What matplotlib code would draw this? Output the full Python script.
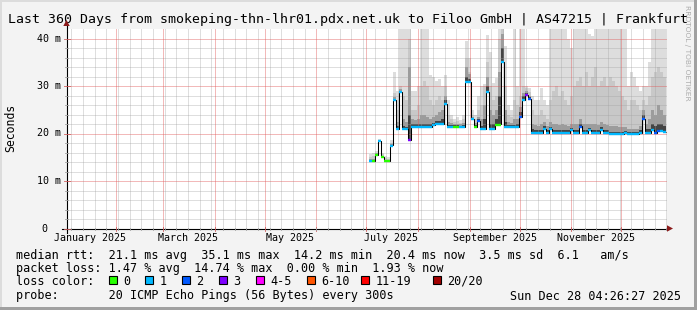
import numpy as np
import matplotlib
matplotlib.use("Agg")
import matplotlib.pyplot as plt
from matplotlib.lines import Line2D
from matplotlib.patches import Rectangle, Polygon

W, H = 697, 310
DPI = 100

# ---------------- data (ms), one bin = 1.8 days ----------------
start_day = 182.8      # days since 2025-01-01 00:00
bin_days = 1.8

median = [14.2, 14.2, 15.5, 18.5, 15.0, 14.2, 14.2, 17.5, 27.0, 21.0,
          28.8, 21.1, 20.9, 18.6, 21.4, 21.4, 21.4, 21.4, 21.4, 21.4,
          21.4, 21.8, 22.0, 22.0, 22.1, 26.3, 21.4, 21.4, 21.4, 21.4,
          21.4, 21.4, 30.9, 30.9, 23.0, 21.4, 22.6, 20.9, 20.9, 28.8,
          20.9, 20.9, 21.9, 21.9, 35.1, 21.4, 21.4, 21.4, 21.4, 21.4,
          23.5, 27.0, 28.2, 27.3, 20.2, 20.2, 20.2, 20.2, 21.0, 20.2,
          21.0, 20.2, 20.2, 20.2, 20.2, 20.2, 20.2, 20.8, 20.2, 20.2,
          21.5, 20.2, 20.2, 20.8, 20.2, 20.2, 20.2, 20.8, 20.2, 20.2,
          19.9, 19.9, 19.9, 19.9, 19.9, 20.1, 19.9, 19.9, 19.9, 19.9,
          20.2, 23.0, 20.2, 20.2, 20.8, 20.2, 20.6, 20.6, 20.4]

loss = [1, 0, 0, 1, 0, 0, 0, 1, 1, 1,
        1, 1, 1, 3, 1, 1, 1, 1, 1, 1,
        1, 1, 1, 1, 1, 1, 1, 1, 0, 0,
        1, 1, 1, 1, 1, 0, 2, 1, 1, 1,
        1, 1, 0, 0, 1, 1, 1, 1, 1, 1,
        2, 1, 3, 2, 1, 1, 1, 1, 1, 1,
        1, 1, 1, 1, 1, 1, 1, 1, 1, 1,
        2, 1, 1, 1, 1, 1, 1, 1, 1, 1,
        1, 1, 1, 1, 1, 1, 1, 1, 1, 1,
        1, 2, 1, 1, 1, 2, 2, 1, 1]

smoke_max = [15.6, 15.8, 16.3, 18.8, 16.0, 15.3, 15.0, 18.6, 33.0, 29.0,
             43, 43, 43, 43, 29, 29, 30, 43, 43, 43,
             32.3, 32, 31, 31.5, 30, 32.3, 27, 24, 23, 23.5,
             22.8, 24, 39.5, 36, 25, 24, 28, 30, 30.5, 40.7,
             37.2, 30.6, 31.6, 43, 43, 38.4, 26, 25, 43, 30,
             43, 43, 30, 29.5, 28, 27, 27, 29.5, 27, 26,
             43, 43, 43, 43, 43, 43, 40, 38, 43, 43,
             43, 43, 43, 41, 40.5, 43, 43, 43, 43, 43,
             43, 43, 43, 43, 43, 43, 30, 33, 32, 30,
             29, 30, 30, 35, 43, 43, 43, 43, 43]

smoke_hi = [15.0, 15.2, 16.0, 18.6, 15.6, 14.9, 14.7, 18.0, 28.5, 25,
            30, 28, 27, 40, 25, 25, 26, 30, 31, 30,
            27, 26, 27, 28, 27, 30, 24, 23, 22.5, 22.6,
            22.3, 23, 36, 33, 24, 23, 25, 26, 30, 35,
            30, 27, 28, 40, 43, 30, 24, 23.5, 27, 26,
            28, 30, 29.5, 28.8, 25, 24, 24, 25, 24, 23,
            27, 29, 30, 28, 29, 27, 26, 28, 30, 31,
            32, 30, 33, 30, 32, 34, 30, 31, 32, 30,
            32, 31, 30, 29, 28, 27, 25, 27, 27, 26,
            25, 27, 26, 28, 32, 33, 34, 33, 32]

smoke_mid = [14.6, 14.7, 15.8, 18.6, 15.3, 14.5, 14.4, 17.8, 27.6, 22.5,
             29.3, 23, 22.5, 34, 23, 22.8, 23, 24, 24, 23.5,
             23, 23.5, 24, 24.5, 25, 28, 22.5, 22.2, 22, 22,
             21.9, 22.2, 34, 32.5, 23.5, 22.2, 23.5, 23, 26, 32,
             25, 24, 25, 33, 41, 25, 22.5, 22.2, 23, 23,
             25.5, 28.5, 29, 28, 22, 21.8, 21.5, 22, 22.5, 21.5,
             22.5, 22, 22, 21.8, 22, 21.8, 21.5, 22, 22, 22,
             23, 22, 22, 22, 22, 22, 21.8, 22.5, 22, 21.8,
             21.5, 21.5, 21.5, 21.3, 21.3, 21.3, 21, 21, 21, 21,
             21.5, 25, 22, 23, 25, 24, 26, 25, 24]

smoke_dark = [14.4, 14.4, 15.6, 18.5, 15.1, 14.3, 14.3, 17.6, 27.2, 21.5,
              29.0, 21.6, 21.4, 24, 22, 21.9, 22, 22, 22, 22,
              22, 22.3, 22.6, 22.6, 23, 27, 21.8, 21.7, 21.7, 21.7,
              21.6, 21.7, 32, 31.5, 23.2, 21.8, 23, 21.5, 23, 30,
              22, 22, 23, 28, 38, 22.5, 21.8, 21.7, 21.8, 22,
              24.5, 27.8, 28.6, 27.6, 21, 20.8, 20.7, 20.8, 21.5, 20.7,
              21.4, 20.8, 20.8, 20.8, 20.8, 20.7, 20.7, 21.2, 20.8, 20.8,
              22, 20.8, 20.8, 21.2, 20.8, 20.8, 20.7, 21.3, 20.8, 20.7,
              20.4, 20.4, 20.4, 20.4, 20.4, 20.5, 20.3, 20.3, 20.3, 20.3,
              20.7, 24, 21, 21, 22, 21.5, 22, 22, 21.5]

loss_colors = ['#26ff00', '#00b8ff', '#0059ff', '#7e00ff',
               '#ff00ff', '#ff5500', '#ff0000', '#a10000']
loss_labels = ['0', '1', '2', '3', '4-5', '6-10', '11-19', '20/20']

month_labels = ['January 2025', 'March 2025', 'May 2025',
                'July 2025', 'September 2025', 'November 2025']
month_label_days = [0, 59, 120, 181, 243, 304]
month_start_days = [31, 59, 90, 120, 151, 181, 212, 243, 273, 304, 334]

title = "Last 360 Days from smokeping-thn-lhr01.pdx.net.uk to Filoo GmbH | AS47215 | Frankfurt"
legend_lines = [
    "median rtt:  21.1 ms avg  35.1 ms max  14.2 ms min  20.4 ms now  3.5 ms sd  6.1   am/s",
    "packet loss: 1.47 % avg  14.74 % max  0.00 % min  1.93 % now",
]
probe_text = "probe:       20 ICMP Echo Pings (56 Bytes) every 300s"
stamp_text = "Sun Dec 28 04:26:27 2025"

# ---------------- figure ----------------
MONO = 'DejaVu Sans Mono'
fig = plt.figure(figsize=(W / DPI, H / DPI), dpi=DPI)
fig.patch.set_facecolor('#f3f3f3')


def fx(x):
    return x / W


def fy(y):
    return 1 - y / H


# 3D-ish border
fig.add_artist(Rectangle((0, fy(2)), 1, 2 / H, transform=fig.transFigure,
                         color='#dcdcdc', lw=0, zorder=0))
fig.add_artist(Rectangle((0, 0), 2 / W, 1, transform=fig.transFigure,
                         color='#dcdcdc', lw=0, zorder=0))
fig.add_artist(Rectangle((0, 0), 1, 3 / H, transform=fig.transFigure,
                         color='#a0a0a0', lw=0, zorder=0))
fig.add_artist(Rectangle((1 - 3 / W, 0), 3 / W, 1, transform=fig.transFigure,
                         color='#a0a0a0', lw=0, zorder=0))

X0 = 66.5
x0_day = 1 + (4 + 26 / 60 + 27 / 3600) / 24
x1_day = x0_day + 360
ymax = 200 / 4.75

ax = fig.add_axes([fx(X0), fy(228.5), 600 / W, 200 / H])
ax.set_facecolor('white')
ax.set_xlim(x0_day, x1_day)
ax.set_ylim(0, ymax)
for s in ax.spines.values():
    s.set_visible(False)
ax.set_xticks([])
ax.set_yticks([])

n = len(median)
edges = start_day + bin_days * np.arange(n + 1)
med = np.array(median)
base = med - 0.2

layers = [(smoke_max, '#dddddd'), (smoke_hi, '#c8c8c8'),
          (smoke_mid, '#9c9c9c'), (smoke_dark, '#444444')]
for vals, col in layers:
    v = np.minimum(np.array(vals, float), ymax)
    ax.stairs(v, edges, baseline=base, fill=True, color=col, lw=0, zorder=2)

# grid (light, on top of smoke) - dotted look approximated by blended colour
minor_kw = dict(color='#a0a0a0', alpha=0.34, lw=0.72, antialiased=False, zorder=3)
major_kw = dict(color='#e05a5a', alpha=0.42, lw=0.72, antialiased=False, zorder=3.1)
sundays = np.arange(4, 362, 7)
for d in sundays:
    if x0_day < d < x1_day and d not in month_start_days:
        ax.axvline(d, **minor_kw)
for yv in np.arange(2, 42, 2):
    if yv % 10:
        ax.axhline(yv, **minor_kw)
for d in month_start_days:
    ax.axvline(d, **major_kw)
for yv in [10, 20, 30, 40]:
    ax.axhline(yv, **major_kw)

# median line (black steps) with loss-coloured median marks on top
ax.stairs(med, edges, baseline=None, color='black', lw=0.75, zorder=4)
lo = np.array(loss)
for k, col in enumerate(loss_colors):
    m = lo == k
    if m.any():
        ax.hlines(med[m] - 0.05, edges[:-1][m], edges[1:][m], color=col,
                  lw=1.7, zorder=5)

# axes lines with arrows
fig.add_artist(Line2D([fx(62), fx(668)], [fy(228.5), fy(228.5)],
                      transform=fig.transFigure, color='black', lw=0.8, zorder=6))
fig.add_artist(Line2D([fx(X0), fx(X0)], [fy(233), fy(25)],
                      transform=fig.transFigure, color='black', lw=0.8, zorder=6))
arrow_col = '#8b1a1a'
fig.add_artist(Polygon([(fx(667), fy(225.3)), (fx(673), fy(228.5)), (fx(667), fy(231.7))],
                       closed=True, transform=fig.transFigure, color=arrow_col, lw=0, zorder=7))
fig.add_artist(Polygon([(fx(63.3), fy(26)), (fx(X0), fy(20)), (fx(69.7), fy(26))],
                       closed=True, transform=fig.transFigure, color=arrow_col, lw=0, zorder=7))

# small ticks
for d in month_start_days:
    xp = X0 + (d - x0_day) / 0.6
    fig.add_artist(Line2D([fx(xp), fx(xp)], [fy(226.5), fy(230.5)],
                          transform=fig.transFigure, color='#d06060', lw=0.6, zorder=6))
for d in sundays:
    if x0_day < d < x1_day:
        xp = X0 + (d - x0_day) / 0.6
        fig.add_artist(Line2D([fx(xp), fx(xp)], [fy(227.5), fy(229.5)],
                              transform=fig.transFigure, color='#a0a0a0', lw=0.6, zorder=6))
for yv in range(0, 42, 2):
    yp = 228.5 - yv * 4.75
    ln = 3 if yv % 10 == 0 else 1.5
    col = '#d06060' if yv % 10 == 0 else '#a0a0a0'
    fig.add_artist(Line2D([fx(X0 - ln), fx(X0 + ln)], [fy(yp), fy(yp)],
                          transform=fig.transFigure, color=col, lw=0.6, zorder=6))

# y labels
AXF = 7.2
for yv in [10, 20, 30, 40]:
    yp = 228.5 - yv * 4.75
    fig.text(fx(60.5), fy(yp), f"{yv} m", ha='right', va='center',
             family=MONO, fontsize=AXF)
fig.text(fx(47.8), fy(228.6), "0", ha='right', va='center', family=MONO, fontsize=AXF)

# x labels
for lab, d in zip(month_labels, month_label_days):
    xp = X0 + (d + 15 - x0_day) / 0.6
    fig.text(fx(xp), fy(237.8), lab, ha='center', va='center',
             family=MONO, fontsize=AXF)

# title, y label, watermark
fig.text(fx(8.3), fy(19.3), title, ha='left', va='center', family=MONO, fontsize=9.5)
fig.text(fx(10.5), fy(128), "Seconds", rotation=90, ha='center', va='center',
         family=MONO, fontsize=8.3)
fig.text(fx(687.5), fy(5), "RRDTOOL / TOBI OETIKER", rotation=-90, ha='center',
         va='top', family='DejaVu Sans', fontsize=5.4, color='#acacac')

# legend
LF = 8.5
fig.text(fx(15.5), fy(255), legend_lines[0], ha='left', va='center', family=MONO, fontsize=LF)
fig.text(fx(15.5), fy(268.3), legend_lines[1], ha='left', va='center', family=MONO, fontsize=LF)
fig.text(fx(15.5), fy(281.5), "loss color:", ha='left', va='center', family=MONO, fontsize=LF)
box_x = [109, 145.3, 181.8, 219, 256, 306.8, 361, 433]
for bx, col, lab in zip(box_x, loss_colors, loss_labels):
    fig.add_artist(Rectangle((fx(bx), fy(283.5)), 8 / W, 8 / H, transform=fig.transFigure,
                             facecolor=col, edgecolor='black', lw=0.8, zorder=6))
    fig.text(fx(bx + 14.3), fy(281.5), lab, ha='left', va='center', family=MONO, fontsize=LF)
fig.text(fx(15.5), fy(296), probe_text, ha='left', va='center', family=MONO, fontsize=LF)
fig.text(fx(680.5), fy(296), stamp_text, ha='right', va='center', family=MONO, fontsize=LF)

fig.savefig('out.png', dpi=DPI, facecolor=fig.get_facecolor())
